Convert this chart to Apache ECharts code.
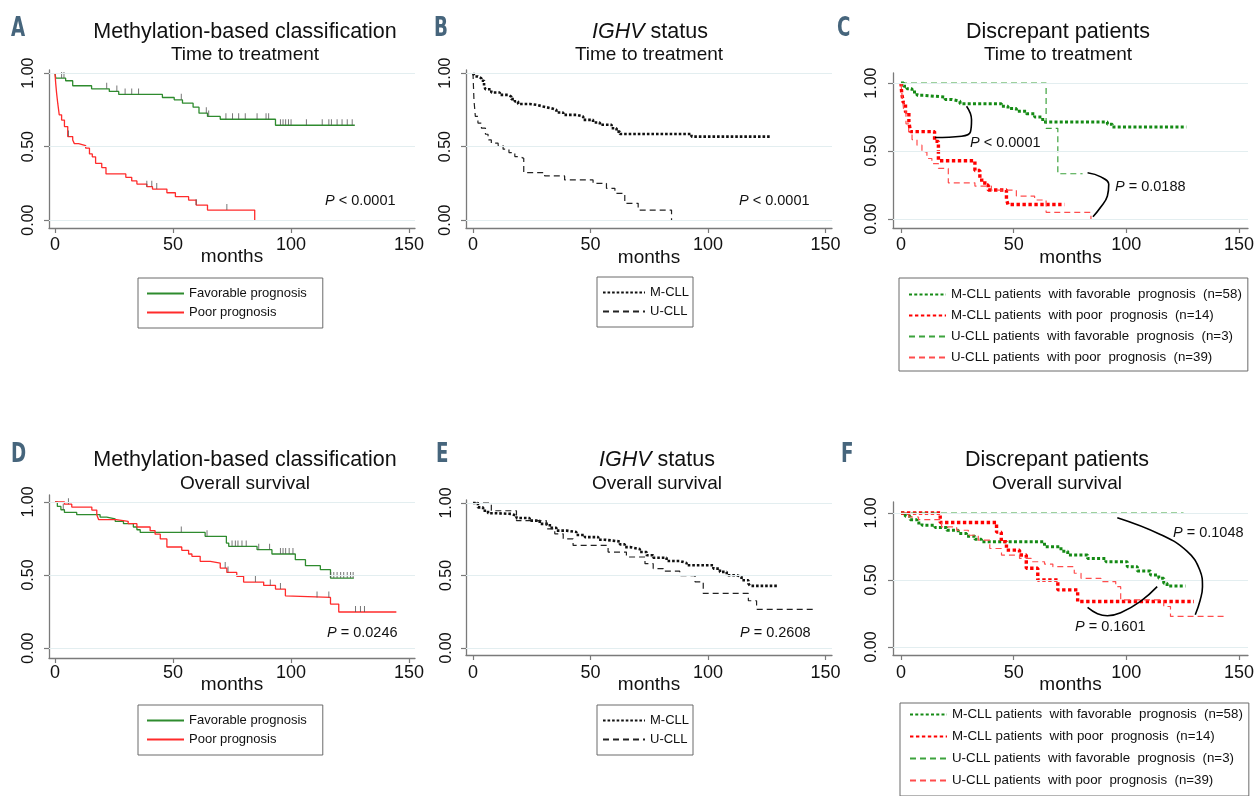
<!DOCTYPE html>
<html><head><meta charset="utf-8">
<script src="https://cdn.jsdelivr.net/npm/echarts@6/dist/echarts.min.js"></script>
<style>html,body{margin:0;padding:0;background:#fff}#c{width:1257px;height:796px}</style>
</head><body><div id="c"></div><script>
// ---------- tick values ----------
const xTicks = [0, 50, 100, 150];
const yTicks = [0, 0.5, 1];
const gridValues = [0, 0.5, 1];

// ---------- Time to treatment (A, B, C) [months, survival] ----------
const tttFav = [[0,1],[0.3,0.966],[4.5,0.948],[7.5,0.914],[15.5,0.893],[23,0.875],[27,0.855],[45.5,0.834],[50.5,0.818],[54,0.795],[58.5,0.768],[61,0.727],[64.6,0.705],[70,0.686],[93.4,0.645],[127,0.645]];
const tttPoor = [[0,1],[0.3,0.93],[0.7,0.86],[1.2,0.79],[1.8,0.716],[2.8,0.68],[4,0.636],[5.4,0.568],[7.5,0.545],[8.2,0.52],[10,0.507],[13,0.489],[14.6,0.45],[15.8,0.43],[17.2,0.386],[19.8,0.357],[21.6,0.314],[30,0.291],[32.5,0.266],[34.7,0.245],[38.9,0.227],[41.3,0.211],[47.4,0.186],[51,0.159],[56.6,0.136],[59.8,0.102],[64.6,0.068],[84.6,0]];
const tttFavCens = [2.8,3.8,21.9,26.2,29.7,32.5,35.4,53.5,64.1,65.1,72.4,75.2,77.8,80.6,85.6,89.4,90.5,95.5,96.6,97.7,98.9,100,106.5,113.2,116,117.1,119.5,121.6,123.8,125.9];
const tttPoorCens = [5.7,38.9,41,43.1,59.8,72.8];
const tttMCLL = [[0,1],[0.7,0.977],[2.1,0.964],[3.6,0.948],[4.7,0.914],[5.3,0.89],[7.8,0.868],[11.4,0.852],[14.9,0.84],[16.3,0.823],[17.8,0.807],[19.2,0.79],[24.1,0.784],[27,0.773],[29.8,0.76],[33.4,0.75],[35.5,0.732],[38.4,0.716],[44,0.705],[46.9,0.682],[51.1,0.664],[54,0.648],[59,0.625],[61.1,0.602],[62.5,0.586],[93,0.568],[127,0.568]];
const tttUCLL = [[0,1],[0.4,0.818],[1,0.705],[2.1,0.66],[3.6,0.625],[5.3,0.584],[6.4,0.545],[7.8,0.523],[10.7,0.507],[12.8,0.482],[15.3,0.459],[17.8,0.432],[19.9,0.42],[21.6,0.323],[30.5,0.3],[39,0.273],[51.1,0.25],[56.8,0.216],[60.4,0.182],[64.6,0.114],[70.3,0.068],[84.5,0]];
const tttMFav = [[0,1],[1.2,0.976],[2.6,0.958],[4.9,0.934],[7.1,0.91],[10,0.897],[19.6,0.88],[22.5,0.866],[26.2,0.848],[44.6,0.829],[47.5,0.812],[51.2,0.792],[55.6,0.775],[59.3,0.75],[62.9,0.714],[91.6,0.697],[93.8,0.677],[126.6,0.677]];
const tttMPoor = [[0,1],[0.3,0.929],[1,0.857],[2,0.786],[3.5,0.714],[4.2,0.643],[14.9,0.571],[16.6,0.429],[32.8,0.357],[35,0.286],[37.2,0.25],[38.7,0.214],[46.8,0.143],[47.5,0.107],[72.5,0.107]];
const tttUFav = [[0,1],[64.4,0.667],[69.6,0.333],[80.6,0.333]];
const tttUPoor = [[0,1],[0.4,0.92],[1.2,0.8],[2.2,0.7],[3.4,0.64],[4.9,0.584],[7.1,0.543],[9.3,0.494],[11.5,0.445],[13.7,0.408],[16.6,0.372],[21,0.266],[32.8,0.242],[40.1,0.213],[51.2,0.169],[59.3,0.14],[64.4,0.049],[84.3,0]];

// ---------- Overall survival (D, E, F) ----------
const osFav = [[0,1],[1,0.97],[2.5,0.947],[4,0.929],[9.2,0.913],[19.1,0.897],[21.9,0.884],[25.5,0.868],[29,0.852],[33.2,0.829],[34.7,0.81],[36.1,0.792],[63.6,0.765],[72.6,0.719],[73.6,0.696],[85.6,0.674],[91.9,0.644],[101.8,0.605],[106.1,0.564],[112.4,0.537],[116.7,0.479],[126.6,0.479]];
const osPoor = [[0,1],[4,0.985],[7.1,0.965],[15.6,0.945],[17.7,0.913],[18.5,0.879],[26,0.868],[31,0.852],[34.7,0.829],[40.3,0.804],[42.4,0.78],[44.6,0.747],[47.4,0.692],[53.7,0.669],[56.6,0.644],[58,0.628],[61.5,0.594],[65.8,0.582],[70,0.548],[72.8,0.518],[77,0.491],[79.9,0.452],[88.4,0.429],[93.4,0.404],[97.6,0.358],[98.3,0.347],[116.7,0.301],[120.2,0.247],[144.6,0.247]];
const osFavCens = [3.5,53.5,64.4,75,76.4,77.5,79.2,81,86.3,90.9,95.5,96.6,97.7,99.2,100.8,116.8,118.1,119.5,121,122.3,123.8,125.2,126.3];
const osPoorCens = [5.7,72.1,73.3,84.9,91.2,95.5,111,116,127.3,129.4,131.1];
const osMCLL = [[0,1],[2.1,0.97],[4.3,0.947],[6.4,0.93],[9.9,0.925],[16.3,0.913],[18.5,0.897],[24.1,0.879],[28.4,0.856],[32.7,0.829],[35.5,0.81],[39.8,0.8],[44,0.78],[47.6,0.765],[53.3,0.747],[56.1,0.735],[62.5,0.715],[64.6,0.696],[66.8,0.683],[71,0.662],[73.9,0.64],[76.7,0.623],[82.4,0.6],[88.1,0.587],[90.9,0.571],[102.3,0.548],[105.1,0.525],[108,0.502],[112.2,0.491],[114.3,0.468],[117.2,0.445],[117.9,0.429],[130,0.429]];
const osUCLL = [[0,1],[7.8,0.947],[18.5,0.879],[31.2,0.822],[34.8,0.788],[38.4,0.753],[42.6,0.708],[57.5,0.662],[65.3,0.628],[73.2,0.582],[76.7,0.548],[81,0.53],[88,0.5],[94.5,0.457],[98,0.377],[117.2,0.326],[120.7,0.267],[144.9,0.267]];
const osMFav = [[0,1],[1.9,0.975],[4.1,0.95],[7.1,0.926],[9.3,0.908],[15.1,0.891],[20.3,0.871],[25.4,0.847],[29.1,0.827],[32.8,0.804],[35.7,0.785],[63.7,0.748],[71,0.715],[74,0.686],[82.8,0.661],[90.9,0.636],[100.4,0.599],[104.9,0.567],[110.7,0.537],[114.4,0.512],[116.6,0.475],[118.1,0.455],[126.2,0.455]];
const osMPoor = [[0,1],[17.4,0.929],[42.4,0.857],[44.5,0.786],[46.8,0.723],[52.6,0.686],[55.6,0.587],[60.7,0.5],[69.6,0.426],[78.4,0.339],[130,0.339]];
const osUFav = [[0,1],[125.4,1]];
const osUPoor = [[0,1],[3.4,0.97],[7.8,0.95],[18,0.896],[24.7,0.871],[29.9,0.834],[34.3,0.797],[39.4,0.735],[44.6,0.686],[52.6,0.661],[57.8,0.636],[63.7,0.619],[67.4,0.599],[76.9,0.55],[79.9,0.512],[88.7,0.488],[95.3,0.45],[97.5,0.351],[116.6,0.302],[119.6,0.228],[144.6,0.228]];

// ---------- annotation brackets (data units) ----------
const annC1 = [[29.1,0.829],[31.3,0.73],[30.8,0.64],[26.9,0.609],[15.1,0.6]];
const annC2 = [[82.8,0.34],[88.7,0.31],[92.2,0.255],[91.6,0.17],[88.5,0.085],[85.2,0.017]];
const annF1 = [[96,0.965],[115.1,0.84],[126.9,0.715],[132.6,0.574],[133.8,0.45],[132.8,0.351],[130.6,0.24]];
const annF2 = [[82.8,0.295],[87.2,0.248],[91.6,0.233],[97.5,0.255],[106.3,0.34],[113.7,0.45]];

// ---------- names ----------
const nFav = 'Favorable prognosis', nPoor = 'Poor prognosis';
const nM = 'M-CLL', nU = 'U-CLL';
const nMF = 'M-CLL patients  with favorable  prognosis  (n=58)';
const nMP = 'M-CLL patients  with poor  prognosis  (n=14)';
const nUF = 'U-CLL patients  with favorable  prognosis  (n=3)';
const nUP = 'U-CLL patients  with poor  prognosis  (n=39)';

const F = '"Liberation Sans", Arial, Helvetica, sans-serif';
const panels = [
  {grid:{left:49,top:70,width:366,height:158}, x:[-2.54,152.5], y:[-0.054,1.021], ym:12, xm:8, ng:19},
  {grid:{left:466,top:70,width:366,height:158}, x:[-2.98,152.8], y:[-0.054,1.021], ym:12, xm:8, ng:20},
  {grid:{left:893,top:73,width:355,height:155}, x:[-3.55,154], y:[-0.066,1.074], ym:13, xm:8, ng:20},
  {grid:{left:49,top:495,width:366,height:163}, x:[-2.54,152.5], y:[-0.068,1.048], ym:12, xm:6, ng:17},
  {grid:{left:466,top:500,width:366,height:155}, x:[-2.98,152.8], y:[-0.048,1.021], ym:11, xm:9, ng:20},
  {grid:{left:893,top:502,width:355,height:153}, x:[-3.55,154], y:[-0.06,1.082], ym:13, xm:9, ng:20}
];
const axisCol = '#7a7a7a';
const grid = panels.map(p => Object.assign({containLabel:false}, p.grid));
const xAxis = panels.map((p,i) => ({
  type:'value', gridIndex:i, min:p.x[0], max:p.x[1],
  name:'months', nameLocation:'middle', nameGap:p.ng, nameMoveOverlap:false,
  nameTextStyle:{fontSize:19, color:'#111', fontFamily:F},
  axisLine:{show:true, onZero:false, lineStyle:{color:axisCol, width:1.3}},
  axisTick:{show:true, length:5, customValues:xTicks, lineStyle:{color:axisCol, width:1.2}},
  axisLabel:{customValues:xTicks, fontSize:18, color:'#111', margin:p.xm, fontFamily:F},
  splitLine:{show:false}
}));
const yAxis = panels.map((p,i) => ({
  type:'value', gridIndex:i, min:p.y[0], max:p.y[1],
  axisLine:{show:true, onZero:false, lineStyle:{color:axisCol, width:1.3}},
  axisTick:{show:true, length:5, customValues:yTicks, lineStyle:{color:axisCol, width:1.2}},
  axisLabel:{customValues:yTicks, rotate:90, fontSize:16, color:'#111', margin:p.ym, fontFamily:F, formatter:v => v.toFixed(2)},
  splitLine:{show:false}
}));

const solid = (c) => ({color:c, width:1.3, type:'solid'});
const dotted = (c, w) => ({color:c, width:w, type:[w, w*0.75], cap:'butt'});
const dashed = (c) => ({color:c, width:1.2, type:[6,4]});

function km(name, pi, data, ls, z) {
  return {type:'line', name, xAxisIndex:pi, yAxisIndex:pi, data, step:'end', symbol:'none',
          color:ls.color, lineStyle:ls, silent:true, z:z||3, animation:false};
}
function survAt(curve, t) { let s = curve[0][1]; for (const [x,y] of curve) { if (x <= t) s = y; else break; } return s; }
function cens(pi, curve, times) {
  return {type:'scatter', name:'cens'+pi+curve.length, xAxisIndex:pi, yAxisIndex:pi,
          data:times.map(t => [t, survAt(curve,t)]), symbol:'rect', symbolSize:[1,6], symbolOffset:[0,-3],
          itemStyle:{color:'#555'}, silent:true, z:4, animation:false};
}
function bracket(pi, data) {
  return {type:'line', name:'br'+pi+data.length, xAxisIndex:pi, yAxisIndex:pi, data, smooth:0.45, symbol:'none',
          lineStyle:{color:'#000', width:1.6}, silent:true, z:5, animation:false};
}
function gridLines(pi) {
  return {type:'line', name:'g'+pi, xAxisIndex:pi, yAxisIndex:pi, data:[], z:1, silent:true, animation:false,
          markLine:{silent:true, symbol:'none', label:{show:false}, animation:false,
                    lineStyle:{color:'#e3eef0', width:1, type:'solid'},
                    data:gridValues.map(v => ({yAxis:v}))}};
}

const green = '#2e8b2e', red = '#ff2b2b';
const gDot = '#148a14', gDash = '#3da33d', rDot = '#ff0000', rDash = '#ff4d4d';
const series = [];
for (let i = 0; i < 6; i++) series.push(gridLines(i));
series.push(
  km(nFav,0,tttFav,solid(green)), km(nPoor,0,tttPoor,solid(red)),
  cens(0,tttFav,tttFavCens), cens(0,tttPoor,tttPoorCens),
  km(nM,1,tttMCLL,dotted('#111',2.6)), km(nU,1,tttUCLL,dashed('#222')),
  km(nMF,2,tttMFav,dotted(gDot,3)), km(nMP,2,tttMPoor,dotted(rDot,3.4)),
  km(nUF,2,tttUFav,dashed(gDash)), km(nUP,2,tttUPoor,dashed(rDash)),
  bracket(2,annC1), bracket(2,annC2),
  km(nFav,3,osFav,solid(green)), km(nPoor,3,osPoor,solid(red)),
  cens(3,osFav,osFavCens), cens(3,osPoor,osPoorCens),
  km(nM,4,osMCLL,dotted('#111',2.6)), km(nU,4,osUCLL,dashed('#222')),
  km(nMF,5,osMFav,dotted(gDot,3)), km(nMP,5,osMPoor,dotted(rDot,3.4)),
  km(nUF,5,osUFav,dashed(gDash)), km(nUP,5,osUPoor,dashed(rDash)),
  bracket(5,annF1), bracket(5,annF2)
);

const legBase = {orient:'vertical', itemHeight:14, borderColor:'#6a6a6a', borderWidth:1, selectedMode:false,
                 itemStyle:{opacity:0, borderWidth:0},
                 textStyle:{fontSize:13, color:'#111', fontFamily:F}};
const legend = [
  Object.assign({}, legBase, {data:[nFav,nPoor], left:138, top:278, itemWidth:37, itemGap:6, padding:[9,16,9,8]}),
  Object.assign({}, legBase, {data:[nM,nU], left:597, top:277, itemWidth:42, itemGap:6, padding:[9,4,9,5]}),
  Object.assign({}, legBase, {data:[nMF,nMP,nUF,nUP], left:899, top:278, itemWidth:37, itemGap:8, padding:[10,6,7,9],
                textStyle:{fontSize:13.3, color:'#111', fontFamily:F}}),
  Object.assign({}, legBase, {data:[nFav,nPoor], left:138, top:705, itemWidth:37, itemGap:6, padding:[9,16,9,8]}),
  Object.assign({}, legBase, {data:[nM,nU], left:597, top:705, itemWidth:42, itemGap:6, padding:[9,4,9,5]}),
  Object.assign({}, legBase, {data:[nMF,nMP,nUF,nUP], left:900, top:703, itemWidth:37, itemGap:9, padding:[5,6,9,9],
                textStyle:{fontSize:13.3, color:'#111', fontFamily:F}})
];

function txt(x, y, text, size, opts) {
  return {type:'text', x, y, silent:true, z:10, style:Object.assign({text, fontSize:size, fontFamily:F, fill:'#111',
          textAlign:'center', textVerticalAlign:'middle', rich:{i:{fontStyle:'italic', fontSize:size, fontFamily:F, fill:'#111'}}}, opts||{})};
}
function letter(x, y, t) {
  return {type:'text', x, y, scaleX:0.78, silent:true, z:10, style:{text:t, fontSize:26, fontWeight:'bold',
          fontFamily:'"Liberation Sans Narrow", "DejaVu Sans Condensed", Arial, sans-serif', fill:'#46657c',
          textAlign:'left', textVerticalAlign:'middle'}};
}
const graphic = [
  letter(11,29,'A'), letter(434,29,'B'), letter(837,29,'C'),
  letter(11,455,'D'), letter(436,455,'E'), letter(841,455,'F'),
  txt(245,32,'Methylation-based classification',21.5), txt(245,55,'Time to treatment',19),
  txt(650,32,'{i|IGHV} status',21.5), txt(649,55,'Time to treatment',19),
  txt(1058,32,'Discrepant patients',21.5), txt(1058,55,'Time to treatment',19),
  txt(245,460,'Methylation-based classification',21.5), txt(245,484,'Overall survival',19),
  txt(657,460,'{i|IGHV} status',21.5), txt(657,484,'Overall survival',19),
  txt(1057,460,'Discrepant patients',21.5), txt(1057,484,'Overall survival',19),
  txt(325,201,'{i|P} < 0.0001',14.5,{textAlign:'left'}),
  txt(739,201,'{i|P} < 0.0001',14.5,{textAlign:'left'}),
  txt(970,143,'{i|P} < 0.0001',14.5,{textAlign:'left'}),
  txt(1115,187,'{i|P} = 0.0188',14.5,{textAlign:'left'}),
  txt(327,633,'{i|P} = 0.0246',14.5,{textAlign:'left'}),
  txt(740,633,'{i|P} = 0.2608',14.5,{textAlign:'left'}),
  txt(1173,533,'{i|P} = 0.1048',14.5,{textAlign:'left'}),
  txt(1075,627,'{i|P} = 0.1601',14.5,{textAlign:'left'})
];

const chart = echarts.init(document.getElementById('c'), null, {renderer:'canvas'});
chart.setOption({animation:false, backgroundColor:'#fff', grid, xAxis, yAxis, series, legend, graphic});
</script></body></html>
